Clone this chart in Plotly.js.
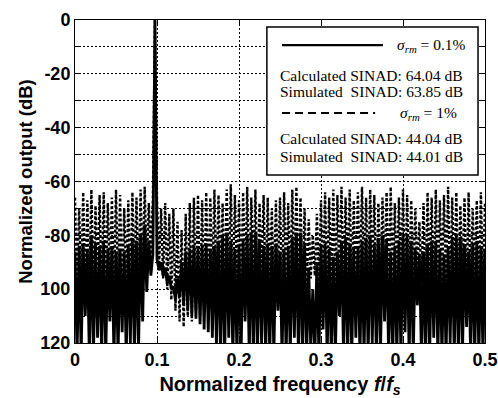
<!DOCTYPE html>
<html><head><meta charset="utf-8">
<script src="https://cdn.plot.ly/plotly-3.0.1.min.js"></script>
<style>html,body{margin:0;padding:0;background:#fff}#chart{width:498px;height:398px}</style>
</head><body><div id="chart"></div>
<script>
// Normalized frequency bins (f/fs)
var freq = [
0,0.0025,0.005,0.0075,0.01,0.0125,0.015,0.0175,0.02,0.0225,
0.025,0.0275,0.03,0.0325,0.035,0.0375,0.04,0.0425,0.045,0.0475,
0.05,0.0525,0.055,0.0575,0.06,0.0625,0.065,0.0675,0.07,0.0725,
0.075,0.0775,0.08,0.0825,0.085,0.0875,0.09,0.0925,0.095,0.0975,
0.1,0.1025,0.105,0.1075,0.11,0.1125,0.115,0.1175,0.12,0.1225,
0.125,0.1275,0.13,0.1325,0.135,0.1375,0.14,0.1425,0.145,0.1475,
0.15,0.1525,0.155,0.1575,0.16,0.1625,0.165,0.1675,0.17,0.1725,
0.175,0.1775,0.18,0.1825,0.185,0.1875,0.19,0.1925,0.195,0.1975,
0.2,0.2025,0.205,0.2075,0.21,0.2125,0.215,0.2175,0.22,0.2225,
0.225,0.2275,0.23,0.2325,0.235,0.2375,0.24,0.2425,0.245,0.2475,
0.25,0.2525,0.255,0.2575,0.26,0.2625,0.265,0.2675,0.27,0.2725,
0.275,0.2775,0.28,0.2825,0.285,0.2875,0.29,0.2925,0.295,0.2975,
0.3,0.3025,0.305,0.3075,0.31,0.3125,0.315,0.3175,0.32,0.3225,
0.325,0.3275,0.33,0.3325,0.335,0.3375,0.34,0.3425,0.345,0.3475,
0.35,0.3525,0.355,0.3575,0.36,0.3625,0.365,0.3675,0.37,0.3725,
0.375,0.3775,0.38,0.3825,0.385,0.3875,0.39,0.3925,0.395,0.3975,
0.4,0.4025,0.405,0.4075,0.41,0.4125,0.415,0.4175,0.42,0.4225,
0.425,0.4275,0.43,0.4325,0.435,0.4375,0.44,0.4425,0.445,0.4475,
0.45,0.4525,0.455,0.4575,0.46,0.4625,0.465,0.4675,0.47,0.4725,
0.475,0.4775,0.48,0.4825,0.485,0.4875,0.49,0.4925,0.495,0.4975,
0.5];

// sigma_rm = 0.1 % (solid)
var outSolid = [
-86,-125,-84,-125,-83,-110,-85,-125,-80,-125,
-83,-118,-84,-125,-82,-125,-85,-112,-84,-125,
-86,-125,-85,-116,-86,-125,-84,-120,-81,-125,
-82,-122,-80,-112,-76,-101,-82,-95,-87,0,
-89,-93,-90,-95,-92,-98,-95,-100,-99,-104,
-96,-103,-90,-106,-86,-108,-85,-110,-84,-111,
-85,-113,-84,-115,-83,-116,-85,-118,-84,-121,
-82,-125,-80,-125,-79,-118,-82,-125,-85,-125,
-84,-125,-82,-112,-80,-125,-79,-125,-79,-125,
-82,-120,-84,-125,-83,-125,-84,-125,-83,-108,
-86,-125,-85,-125,-84,-125,-81,-118,-79,-125,
-79,-125,-83,-125,-92,-122,-100,-125,-90,-125,
-84,-115,-83,-125,-85,-125,-88,-125,-86,-110,
-82,-125,-81,-125,-83,-125,-85,-118,-84,-125,
-82,-125,-81,-125,-80,-120,-83,-125,-81,-125,
-80,-112,-82,-125,-86,-125,-84,-125,-82,-125,
-80,-116,-80,-125,-82,-125,-85,-106,-87,-125,
-86,-125,-83,-125,-82,-118,-82,-125,-85,-125,
-87,-125,-84,-120,-81,-125,-80,-125,-81,-125,
-84,-114,-86,-125,-83,-125,-82,-125,-84,-125,
-85];

// sigma_rm = 1 % (dashed)
var outDashed = [
-66,-100,-70,-98,-64,-104,-67,-99,-63,-102,
-69,-97,-65,-103,-64,-100,-68,-96,-66,-101,
-63,-99,-65,-104,-70,-98,-67,-102,-64,-97,
-66,-100,-63,-96,-62,-92,-68,-88,-66,0,
-66,-92,-70,-96,-68,-100,-72,-104,-70,-108,
-75,-112,-78,-114,-72,-110,-68,-112,-66,-108,
-65,-110,-67,-106,-64,-104,-66,-100,-63,-102,
-65,-99,-68,-103,-63,-98,-61,-101,-65,-97,
-67,-104,-64,-99,-62,-102,-66,-98,-63,-100,
-68,-97,-65,-103,-66,-99,-70,-101,-67,-96,
-66,-102,-64,-98,-68,-100,-63,-97,-62,-103,
-66,-99,-70,-101,-74,-96,-80,-95,-72,-100,
-67,-98,-64,-103,-66,-99,-63,-101,-65,-97,
-62,-102,-66,-98,-63,-100,-67,-104,-64,-99,
-62,-97,-66,-101,-63,-98,-65,-103,-68,-100,
-66,-97,-64,-102,-62,-99,-68,-101,-66,-98,
-63,-103,-65,-100,-67,-96,-70,-95,-75,-98,
-68,-101,-64,-99,-66,-103,-63,-98,-67,-100,
-65,-97,-62,-102,-66,-99,-64,-101,-69,-98,
-66,-103,-64,-100,-70,-97,-67,-102,-64,-99,
-68];

var xTickVals = [0, 0.1, 0.2, 0.3, 0.4, 0.5];
var xTickText = ['0', '0.1', '0.2', '0.3', '0.4', '0.5'];
var yTickVals = [0, -20, -40, -60, -80, -100, -120];
var yTickText = ['0', '-20', '-40', '-60', '-80', '100', '120'];

var legendLines = [
  '<i>σ</i><sub><i>rm</i></sub> = 0.1%',
  'Calculated SINAD: 64.04 dB',
  'Simulated\u00a0 SINAD: 63.85 dB',
  '<i>σ</i><sub><i>rm</i></sub> = 1%',
  'Calculated SINAD: 44.04 dB',
  'Simulated\u00a0 SINAD: 44.01 dB'
];

var traces = [
  {x: freq, y: outDashed, type: 'scatter', mode: 'lines',
   line: {color: '#000', width: 2.4, dash: '3px,2px'}, showlegend: false, hoverinfo: 'skip'},
  {x: freq, y: outSolid, type: 'scatter', mode: 'lines',
   line: {color: '#000', width: 2.8}, showlegend: false, hoverinfo: 'skip'}
];

var tickFont = {family: 'Liberation Sans, Arial, sans-serif', size: 18, color: '#000', weight: 'bold'};
var xTitleFont = {family: 'Liberation Sans, Arial, sans-serif', size: 20, color: '#000', weight: 'bold'};
var yTitleFont = {family: 'Liberation Sans, Arial, sans-serif', size: 18.5, color: '#000', weight: 'bold'};
var serif = {family: 'Liberation Serif, Times New Roman, serif', size: 15.5, color: '#000'};

var L = 0.468, R = 0.983;
var layout = {
  width: 498, height: 398,
  margin: {l: 75, r: 13, t: 20, b: 55, pad: 0},
  paper_bgcolor: '#fff', plot_bgcolor: '#fff',
  showlegend: false,
  xaxis: {
    range: [0, 0.5], tickmode: 'array', tickvals: xTickVals, ticktext: xTickText,
    ticks: 'inside', ticklen: 5, tickcolor: '#000', mirror: 'ticks',
    showline: true, linecolor: '#000', linewidth: 1,
    showgrid: true, gridcolor: '#000', gridwidth: 1, griddash: '2px,2px',
    zeroline: false, tickfont: tickFont,
    title: {text: 'Normalized frequency <i>f</i>/<i>f</i><sub><i>s</i></sub>', font: xTitleFont, standoff: 8}
  },
  yaxis: {
    range: [-120, 0], tickmode: 'array', tickvals: yTickVals, ticktext: yTickText,
    ticks: 'inside', ticklen: 5, tickcolor: '#000', mirror: 'ticks',
    showline: true, linecolor: '#000', linewidth: 1,
    showgrid: true, gridcolor: '#000', gridwidth: 1, griddash: '2px,2px',
    minor: {tickmode: 'linear', tick0: 0, dtick: 10, ticks: 'inside', ticklen: 5, tickcolor: '#000',
            showgrid: true, gridcolor: '#000', gridwidth: 1, griddash: '2px,2px'},
    zeroline: false, tickfont: tickFont,
    title: {text: 'Normalized output (dB)', font: yTitleFont, standoff: 2}
  },
  shapes: [
    {type: 'rect', xref: 'paper', yref: 'paper', x0: L, x1: R, y0: 0.520, y1: 0.978,
     fillcolor: '#fff', line: {color: '#000', width: 1.5}, layer: 'above'},
    {type: 'line', xref: 'paper', yref: 'paper', x0: 0.505, x1: 0.751, y0: 0.922, y1: 0.922,
     line: {color: '#000', width: 2.2}, layer: 'above'},
    {type: 'line', xref: 'paper', yref: 'paper', x0: 0.505, x1: 0.732, y0: 0.712, y1: 0.712,
     line: {color: '#000', width: 2.2, dash: '8px,5px'}, layer: 'above'}
  ],
  annotations: [
    {xref: 'paper', yref: 'paper', x: 0.780, y: 0.922, xanchor: 'left', yanchor: 'middle', text: legendLines[0], showarrow: false, font: serif},
    {xref: 'paper', yref: 'paper', x: 0.495, y: 0.827, xanchor: 'left', yanchor: 'middle', text: legendLines[1], showarrow: false, font: serif},
    {xref: 'paper', yref: 'paper', x: 0.495, y: 0.780, xanchor: 'left', yanchor: 'middle', text: legendLines[2], showarrow: false, font: serif},
    {xref: 'paper', yref: 'paper', x: 0.787, y: 0.712, xanchor: 'left', yanchor: 'middle', text: legendLines[3], showarrow: false, font: serif},
    {xref: 'paper', yref: 'paper', x: 0.495, y: 0.632, xanchor: 'left', yanchor: 'middle', text: legendLines[4], showarrow: false, font: serif},
    {xref: 'paper', yref: 'paper', x: 0.495, y: 0.576, xanchor: 'left', yanchor: 'middle', text: legendLines[5], showarrow: false, font: serif}
  ]
};

Plotly.newPlot('chart', traces, layout, {staticPlot: true, displayModeBar: false});
</script>
</body></html>
